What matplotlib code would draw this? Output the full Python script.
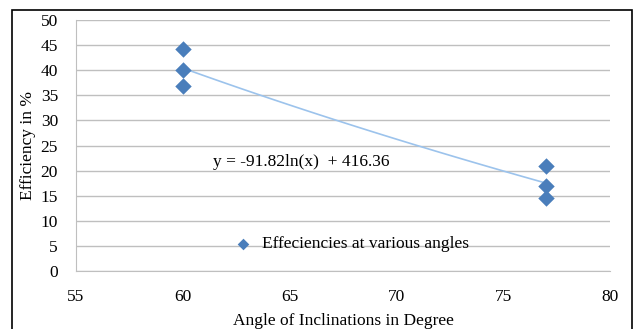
import numpy as np
import matplotlib
matplotlib.use("Agg")
import matplotlib.pyplot as plt
from matplotlib.patches import Rectangle

angles = [60, 60, 60, 77, 77, 77]
efficiency = [44.3, 40.1, 36.8, 21.0, 16.9, 14.5]
fit_a = -91.82
fit_b = 416.36
xticks = [55, 60, 65, 70, 75, 80]
yticks = [0, 5, 10, 15, 20, 25, 30, 35, 40, 45, 50]

plt.rcParams['font.family'] = ['Liberation Serif', 'DejaVu Serif']
FS = 12.5
fig = plt.figure(figsize=(6.36, 3.29), dpi=100)
W, H = 636, 329
ax = fig.add_axes([76 / W, 1 - 271 / H, (610 - 76) / W, (271 - 20) / H])

# outer border
fig.patches.append(Rectangle((12 / W, -0.05), (632 - 12) / W, 1 - 10 / H + 0.05,
                             transform=fig.transFigure, fill=False,
                             edgecolor='black', linewidth=1.2))

xs = np.linspace(60, 77, 100)
ax.plot(xs, fit_a * np.log(xs) + fit_b, color='#9CC3EC', linewidth=1.2, zorder=2)
ax.scatter(angles, efficiency, marker='D', s=70, color='#4A7EBB', zorder=3,
           linewidths=0)

ax.set_xlim(55, 80)
ax.set_ylim(0, 50)
ax.set_xticks(xticks)
ax.set_yticks(yticks)
ax.yaxis.grid(True, color='#BFBFBF', linewidth=1)
ax.set_axisbelow(True)
for s in ['top', 'right']:
    ax.spines[s].set_visible(False)
for s in ['left', 'bottom']:
    ax.spines[s].set_color('#BFBFBF')
ax.tick_params(length=0, labelsize=FS)
ax.tick_params(axis='y', pad=13)
ax.tick_params(axis='x', pad=13)
ax.set_xlabel('Angle of Inclinations in Degree', fontsize=FS, labelpad=6)
ax.set_ylabel('Efficiency in %', fontsize=FS, labelpad=3)

ax.text(65.53, 21.8, 'y = -91.82ln(x)  + 416.36', fontsize=FS, ha='center', va='center')

ax.scatter([62.82], [5.3], marker='D', s=35, color='#4A7EBB', linewidths=0, zorder=3)
ax.text(63.71, 5.3, 'Effeciencies at various angles', fontsize=FS, ha='left', va='center')

fig.savefig('out.png', dpi=100)
